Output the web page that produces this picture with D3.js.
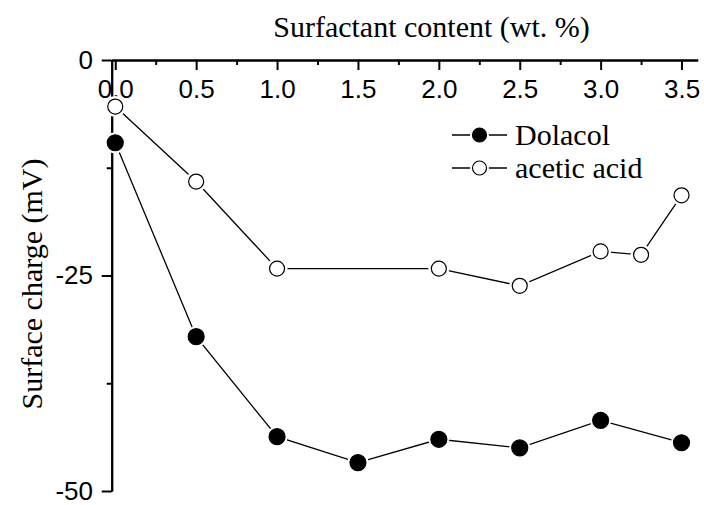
<!DOCTYPE html>
<html>
<head>
<meta charset="utf-8">
<script src="https://cdn.jsdelivr.net/npm/d3@7"></script>
<style>
  html, body { margin: 0; padding: 0; background: #fff; }
  svg { display: block; }
  .tick text { font-family: "Liberation Sans", Arial, sans-serif; font-size: 26px; fill: #000; }
  .serif { font-family: "Liberation Serif", "Times New Roman", serif; font-size: 30px; fill: #000; }
</style>
</head>
<body>
<svg id="chart" width="704" height="505"></svg>
<script>
// surfactant content (wt. %)
const dolacolX = [0, 0.5, 1.0, 1.5, 2.0, 2.5, 3.0, 3.5];
const dolacolY = [-9.6, -32.1, -43.7, -46.7, -44.0, -45.0, -41.8, -44.4];
const aceticX = [0, 0.5, 1.0, 2.0, 2.5, 3.0, 3.25, 3.5];
const aceticY = [-5.4, -14.1, -24.2, -24.2, -26.2, -22.2, -22.6, -15.7];

const xMajor = [0, 0.5, 1.0, 1.5, 2.0, 2.5, 3.0, 3.5];
const xMinor = [0.25, 0.75, 1.25, 1.75, 2.25, 2.75, 3.25];
const yMajor = [0, -25, -50];
const yMinor = [-12.5, -37.5];

const series = [
  { name: 'Dolacol', xs: dolacolX, ys: dolacolY, fill: '#000' },
  { name: 'acetic acid', xs: aceticX, ys: aceticY, fill: '#fff' },
];

const svg = d3.select('#chart');
const x = d3.scaleLinear().domain([-0.022, 3.6]).range([111.7, 697.7]);
const y = d3.scaleLinear().domain([0, -50]).range([60, 491]);
const xAxisY = y(0);
const yAxisX = x(-0.022);

function styleAxis(g) {
  g.select('.domain').attr('stroke', '#000').attr('stroke-width', 2);
  g.selectAll('.tick line').attr('stroke', '#000').attr('stroke-width', 2);
}

// x axis on top, ticks pointing into the plot
svg.append('g')
  .attr('transform', `translate(0,${xAxisY})`)
  .call(d3.axisBottom(x).tickValues(xMinor).tickSize(5).tickSizeOuter(0).tickFormat(''))
  .call(styleAxis);
svg.append('g')
  .attr('transform', `translate(0,${xAxisY})`)
  .call(d3.axisBottom(x).tickValues(xMajor).tickSize(10).tickSizeOuter(0).tickPadding(10).tickFormat((d) => d.toFixed(1)))
  .call(styleAxis);

// y axis on the left (plain hyphen minus, as in the original)
svg.append('g')
  .attr('transform', `translate(${yAxisX},0)`)
  .call(d3.axisLeft(y).tickValues(yMinor).tickSize(5).tickSizeOuter(0).tickFormat(''))
  .call(styleAxis);
svg.append('g')
  .attr('transform', `translate(${yAxisX},0)`)
  .call(d3.axisLeft(y).tickValues(yMajor).tickSize(10).tickSizeOuter(0).tickPadding(8.7).tickFormat((d) => String(d)))
  .call(styleAxis);

// axis titles
svg.append('text')
  .attr('class', 'serif')
  .attr('x', 431.5)
  .attr('y', 37)
  .attr('text-anchor', 'middle')
  .text('Surfactant content (wt. %)');

svg.append('text')
  .attr('class', 'serif')
  .attr('transform', 'translate(41.5,284) rotate(-90)')
  .attr('text-anchor', 'middle')
  .text('Surface charge (mV)');

const line = d3.line().x((d) => x(d[0])).y((d) => y(d[1]));
const r = 8;

series.forEach((s) => {
  const pts = s.xs.map((v, i) => [v, s.ys[i]]);
  const g = svg.append('g');
  g.append('path')
    .datum(pts)
    .attr('d', line)
    .attr('fill', 'none')
    .attr('stroke', '#000')
    .attr('stroke-width', 1.3);
  // white halo gives the small gap between the line and each marker
  g.selectAll('circle.halo')
    .data(pts)
    .join('circle')
    .attr('class', 'halo')
    .attr('cx', (d) => x(d[0]))
    .attr('cy', (d) => y(d[1]))
    .attr('r', r + 2.5)
    .attr('fill', '#fff');
  g.selectAll('circle.mark')
    .data(pts)
    .join('circle')
    .attr('class', 'mark')
    .attr('cx', (d) => x(d[0]))
    .attr('cy', (d) => y(d[1]))
    .attr('r', s.fill === '#000' ? r : r - 0.5)
    .attr('fill', s.fill)
    .attr('stroke', '#000')
    .attr('stroke-width', 1.2);
});

// legend
const legend = svg.append('g');
series.forEach((s, i) => {
  const cy = 135 + i * 33;
  legend.append('line')
    .attr('x1', 452).attr('x2', 507)
    .attr('y1', cy).attr('y2', cy)
    .attr('stroke', '#000').attr('stroke-width', 1.3);
  legend.append('circle')
    .attr('cx', 479.5).attr('cy', cy)
    .attr('r', 9.5).attr('fill', '#fff');
  legend.append('circle')
    .attr('cx', 479.5).attr('cy', cy)
    .attr('r', 7).attr('fill', s.fill)
    .attr('stroke', '#000').attr('stroke-width', 1.2);
  legend.append('text')
    .attr('class', 'serif')
    .attr('x', 515)
    .attr('y', cy + 9.5)
    .text(s.name);
});
</script>
</body>
</html>
